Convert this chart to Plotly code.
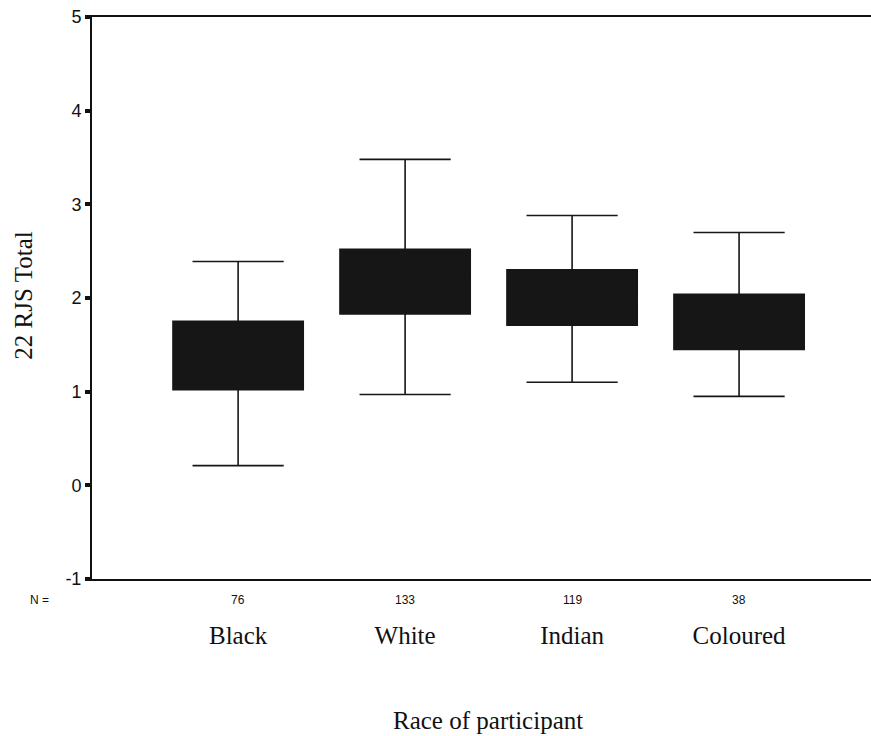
import plotly.graph_objects as go

categories = ["Black", "White", "Indian", "Coloured"]
n_counts = [76, 133, 119, 38]
q1 = [1.02, 1.83, 1.71, 1.45]
median = [1.40, 2.20, 2.00, 1.75]
q3 = [1.75, 2.52, 2.30, 2.04]
lower_whisker = [0.21, 0.97, 1.10, 0.95]
upper_whisker = [2.39, 3.48, 2.88, 2.70]
y_ticks = [-1, 0, 1, 2, 3, 4, 5]
y_tick_labels = ["-1", "0", "1", "2", "3", "4", "5"]

xpos = list(range(len(categories)))

fig = go.Figure()
fig.add_trace(go.Box(
    x=xpos, q1=q1, median=median, q3=q3,
    lowerfence=lower_whisker, upperfence=upper_whisker,
    fillcolor="#161616", line=dict(color="#161616", width=1.6),
    width=0.78, whiskerwidth=0.7, boxpoints=False, showlegend=False,
    hoverinfo="skip",
))

annotations = []
for x, n in zip(xpos, n_counts):
    annotations.append(dict(x=x, y=-0.038, xref="x", yref="paper", text=str(n),
                            showarrow=False, xanchor="center", yanchor="middle",
                            font=dict(family="Liberation Sans", size=12, color="#111")))
annotations.append(dict(x=-0.068, y=-0.038, xref="paper", yref="paper", text="N =",
                        showarrow=False, xanchor="center", yanchor="middle",
                        font=dict(family="Liberation Sans", size=12, color="#111")))
annotations.append(dict(x=0.508, y=-0.252, xref="paper", yref="paper", text="Race of participant",
                        showarrow=False, xanchor="center", yanchor="middle",
                        font=dict(family="Liberation Serif", size=25, color="#111")))
annotations.append(dict(x=-0.088, y=0.505, xref="paper", yref="paper", text="22 RJS Total",
                        showarrow=False, xanchor="center", yanchor="middle", textangle=-90,
                        font=dict(family="Liberation Serif", size=25, color="#111")))

fig.update_layout(
    width=871, height=736,
    margin=dict(l=92, r=0, t=17, b=157),
    paper_bgcolor="white", plot_bgcolor="white",
    annotations=annotations,
    xaxis=dict(range=[-0.875, 3.79], tickvals=xpos, ticktext=categories,
               showline=True, mirror=True, linecolor="#111", linewidth=2,
               showgrid=False, zeroline=False, ticks="",
               ticklabelstandoff=33,
               tickfont=dict(family="Liberation Serif", size=25, color="#111")),
    yaxis=dict(range=[-1, 5], tickvals=y_ticks, ticktext=y_tick_labels,
               showline=True, mirror=False, linecolor="#111", linewidth=2,
               showgrid=False, zeroline=False, ticks="outside", ticklen=5, tickwidth=4,
               tickcolor="#111",
               tickfont=dict(family="Liberation Sans", size=18, color="#111")),
)

fig.write_html("out.html", config={"displayModeBar": False},
               post_script="document.body.style.margin='0px';")
